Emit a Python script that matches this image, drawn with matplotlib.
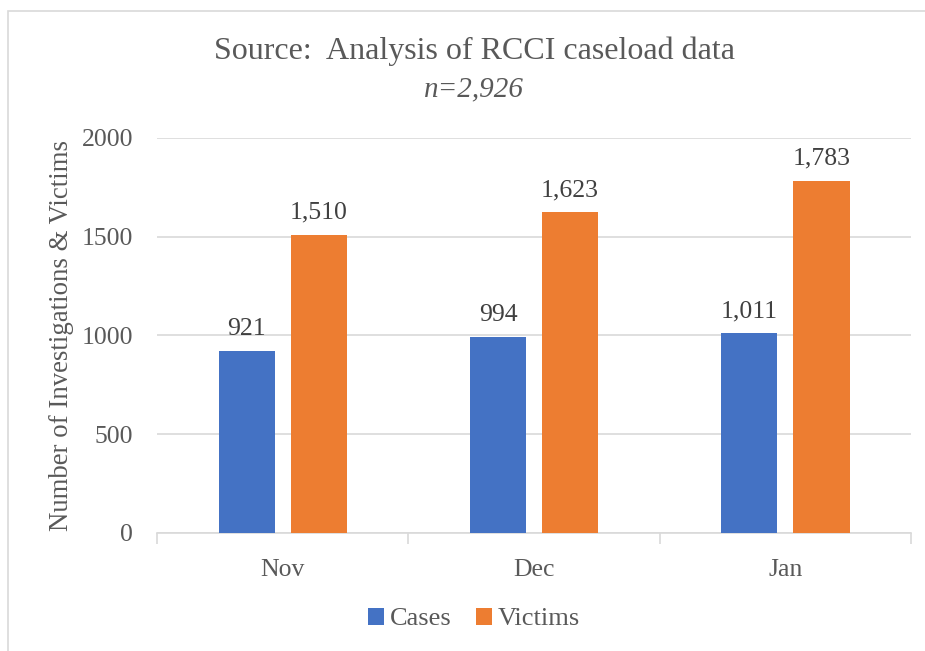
import numpy as np
import matplotlib.pyplot as plt
from matplotlib.patches import Rectangle

months = ['Nov', 'Dec', 'Jan']
cases = [921, 994, 1011]
victims = [1510, 1623, 1783]
case_labels = ['921', '994', '1,011']
victim_labels = ['1,510', '1,623', '1,783']

plt.rcParams['font.family'] = ['Liberation Serif', 'DejaVu Serif']
txt = '#595959'
grid = '#d9d9d9'

fig = plt.figure(figsize=(9.25, 6.51), dpi=100)
ax = fig.add_axes([0.1697, 0.1813, 0.8153, 0.6068])

# outer chart frame
fig.patches.append(Rectangle((8 / 925, -0.01), 1.0, 1 - 11 / 651 + 0.01,
                             transform=fig.transFigure, fill=False,
                             edgecolor=grid, linewidth=1.2))

x = np.arange(len(months))
w = 0.223
gap = 0.064
off = (w + gap) / 2
b1 = ax.bar(x - off, cases, w, color='#4472c4', label='Cases', zorder=3)
b2 = ax.bar(x + off, victims, w, color='#ed7d31', label='Victims', zorder=3)

for bars, labs in [(b1, case_labels), (b2, victim_labels)]:
    for r, lab in zip(bars, labs):
        ax.text(r.get_x() + r.get_width() / 2, r.get_height() + 55, lab,
                ha='center', va='bottom', fontsize=18.5, color='#404040')

ax.set_xlim(-0.5, 2.5)
ax.set_ylim(0, 2000)
ax.set_yticks([0, 500, 1000, 1500, 2000])
ax.yaxis.grid(True, color=grid, linewidth=1.2, zorder=0)
for s in ['top', 'right', 'left']:
    ax.spines[s].set_visible(False)
ax.spines['bottom'].set_color(grid)
ax.spines['bottom'].set_linewidth(1.2)

ax.set_xticks(x)
ax.set_xticklabels(months)
ax.set_xticks([-0.5, 0.5, 1.5, 2.5], minor=True)
ax.tick_params(axis='x', which='major', length=0, pad=19, labelsize=18.5, labelcolor=txt)
ax.tick_params(axis='x', which='minor', length=8, width=1.2, color=grid)
ax.tick_params(axis='y', length=0, pad=17, labelsize=18.5, labelcolor=txt)

ax.set_ylabel('Number of Investigations & Victims', fontsize=19.3, color=txt, labelpad=6)

fig.text(0.5125, 0.921, 'Source:  Analysis of RCCI caseload data', ha='center',
         va='center', fontsize=23, color=txt)
fig.text(0.5125, 0.863, 'n=2,926', ha='center', va='center', fontsize=21,
         color=txt, style='italic')

fig.legend(loc='center', bbox_to_anchor=(0.5125, 0.049), ncol=2, frameon=False,
           fontsize=19, labelcolor=txt, handlelength=0.6, handleheight=0.6,
           handletextpad=0.25, columnspacing=0.9)

fig.savefig('out.png', dpi=100)
